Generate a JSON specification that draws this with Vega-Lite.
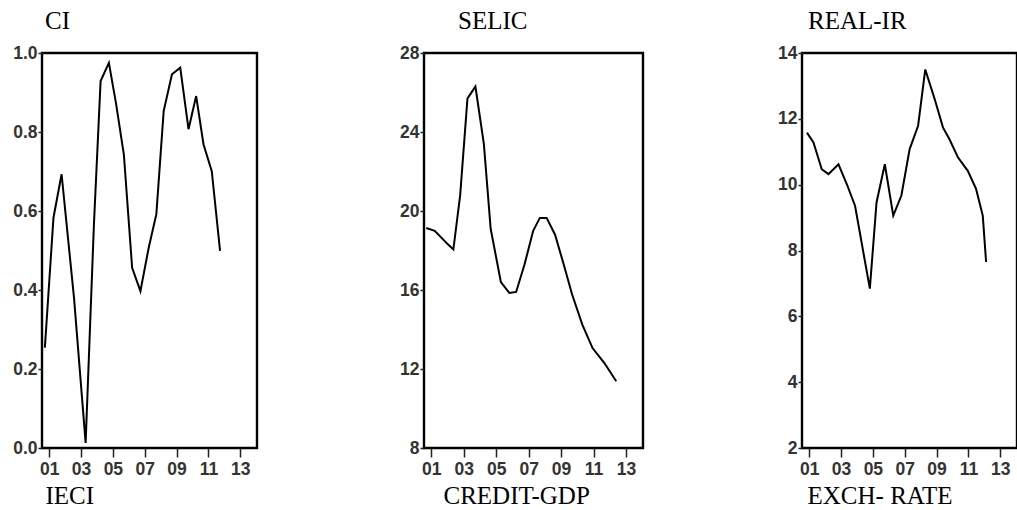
{
  "$schema": "https://vega.github.io/schema/vega-lite/v6.json",
  "padding": {"left": 0, "top": 7, "right": 0, "bottom": 0},
  "background": "white",
  "spacing": 117,
  "config": {
    "view": {"stroke": "black", "strokeWidth": 2.4},
    "axis": {"labelFont": "Liberation Sans", "labelFontSize": 17.5, "labelFontWeight": "bold", "labelColor": "#333", "tickColor": "#222", "tickWidth": 1.5, "grid": false, "domain": false, "titleFont": "Liberation Serif", "titleFontSize": 25, "titleFontWeight": "normal", "titleColor": "black"},
    "title": {"font": "Liberation Serif", "fontSize": 25, "fontWeight": "normal", "anchor": "start", "frame": "group", "color": "black"}
  },
  "datasets": {
    "ci": [
      {"year": 2000.73, "value": 0.254}, {"year": 2001.27, "value": 0.583}, {"year": 2001.78, "value": 0.693},
      {"year": 2002.56, "value": 0.38}, {"year": 2003.29, "value": 0.013}, {"year": 2003.81, "value": 0.566},
      {"year": 2004.23, "value": 0.929}, {"year": 2004.75, "value": 0.975}, {"year": 2005.2, "value": 0.872},
      {"year": 2005.69, "value": 0.743}, {"year": 2006.21, "value": 0.456}, {"year": 2006.73, "value": 0.397},
      {"year": 2007.25, "value": 0.507}, {"year": 2007.73, "value": 0.592}, {"year": 2008.19, "value": 0.853},
      {"year": 2008.71, "value": 0.946}, {"year": 2009.23, "value": 0.963}, {"year": 2009.75, "value": 0.807},
      {"year": 2010.23, "value": 0.891}, {"year": 2010.69, "value": 0.769}, {"year": 2011.21, "value": 0.701},
      {"year": 2011.73, "value": 0.499}
    ],
    "selic": [
      {"year": 2000.69, "value": 19.14}, {"year": 2001.21, "value": 19.0}, {"year": 2002.04, "value": 18.3},
      {"year": 2002.36, "value": 18.05}, {"year": 2002.78, "value": 20.8}, {"year": 2003.23, "value": 25.7},
      {"year": 2003.72, "value": 26.3}, {"year": 2004.24, "value": 23.4}, {"year": 2004.66, "value": 19.1},
      {"year": 2005.29, "value": 16.4}, {"year": 2005.81, "value": 15.85}, {"year": 2006.23, "value": 15.9},
      {"year": 2006.75, "value": 17.3}, {"year": 2007.28, "value": 19.0}, {"year": 2007.69, "value": 19.65},
      {"year": 2008.11, "value": 19.65}, {"year": 2008.63, "value": 18.8}, {"year": 2009.16, "value": 17.3},
      {"year": 2009.68, "value": 15.77}, {"year": 2010.31, "value": 14.25}, {"year": 2010.94, "value": 13.06},
      {"year": 2011.67, "value": 12.3}, {"year": 2012.4, "value": 11.38}
    ],
    "realir": [
      {"year": 2000.86, "value": 11.58}, {"year": 2001.27, "value": 11.28}, {"year": 2001.79, "value": 10.47},
      {"year": 2002.21, "value": 10.32}, {"year": 2002.84, "value": 10.62}, {"year": 2003.36, "value": 10.02},
      {"year": 2003.88, "value": 9.36}, {"year": 2004.29, "value": 8.25}, {"year": 2004.81, "value": 6.84},
      {"year": 2005.23, "value": 9.46}, {"year": 2005.75, "value": 10.62}, {"year": 2006.28, "value": 9.06},
      {"year": 2006.79, "value": 9.67}, {"year": 2007.31, "value": 11.08}, {"year": 2007.84, "value": 11.79},
      {"year": 2008.29, "value": 13.5}, {"year": 2008.88, "value": 12.6}, {"year": 2009.4, "value": 11.74},
      {"year": 2009.81, "value": 11.38}, {"year": 2010.34, "value": 10.83}, {"year": 2010.96, "value": 10.42},
      {"year": 2011.48, "value": 9.87}, {"year": 2011.9, "value": 9.06}, {"year": 2012.11, "value": 7.65}
    ]
  },
  "hconcat": [
    {
      "width": 215, "height": 395,
      "title": {"text": "CI", "dx": 3, "offset": 10},
      "data": {"name": "ci"},
      "mark": {"type": "line", "color": "black", "strokeWidth": 2},
      "encoding": {
        "x": {"field": "year", "type": "quantitative", "scale": {"domain": [2000.55, 2014.05], "nice": false, "zero": false},
          "axis": {"values": [2001, 2003, 2005, 2007, 2009, 2011, 2013], "labelExpr": "slice(toString(datum.value), 2)", "tickSize": 9, "labelPadding": 3, "title": "IECI", "titleX": 3, "titleY": 55, "titleAlign": "left", "titleBaseline": "alphabetic"}},
        "y": {"field": "value", "type": "quantitative", "scale": {"domain": [0, 1], "nice": false, "zero": false},
          "axis": {"values": [0, 0.2, 0.4, 0.6, 0.8, 1.0], "format": ".1f", "tickSize": 4, "labelPadding": 1, "title": null, "minExtent": 40, "maxExtent": 40}}
      }
    },
    {
      "width": 219, "height": 395,
      "title": {"text": "SELIC", "dx": 34, "offset": 10},
      "data": {"name": "selic"},
      "mark": {"type": "line", "color": "black", "strokeWidth": 2},
      "encoding": {
        "x": {"field": "year", "type": "quantitative", "scale": {"domain": [2000.55, 2014.05], "nice": false, "zero": false},
          "axis": {"values": [2001, 2003, 2005, 2007, 2009, 2011, 2013], "labelExpr": "slice(toString(datum.value), 2)", "tickSize": 9, "labelPadding": 3, "title": "CREDIT-GDP", "titleX": 19, "titleY": 55, "titleAlign": "left", "titleBaseline": "alphabetic"}},
        "y": {"field": "value", "type": "quantitative", "scale": {"domain": [8, 28], "nice": false, "zero": false},
          "axis": {"values": [8, 12, 16, 20, 24, 28], "tickSize": 4, "labelPadding": 1, "title": null, "minExtent": 46, "maxExtent": 46}}
      }
    },
    {
      "width": 215, "height": 395,
      "title": {"text": "REAL-IR", "dx": 6, "offset": 10},
      "data": {"name": "realir"},
      "mark": {"type": "line", "color": "black", "strokeWidth": 2},
      "encoding": {
        "x": {"field": "year", "type": "quantitative", "scale": {"domain": [2000.55, 2014.05], "nice": false, "zero": false},
          "axis": {"values": [2001, 2003, 2005, 2007, 2009, 2011, 2013], "labelExpr": "slice(toString(datum.value), 2)", "tickSize": 9, "labelPadding": 3, "title": "EXCH- RATE", "titleX": 5, "titleY": 55, "titleAlign": "left", "titleBaseline": "alphabetic"}},
        "y": {"field": "value", "type": "quantitative", "scale": {"domain": [2, 14], "nice": false, "zero": false},
          "axis": {"values": [2, 4, 6, 8, 10, 12, 14], "tickSize": 4, "labelPadding": 1, "title": null, "minExtent": 38, "maxExtent": 38}}
      }
    }
  ]
}
